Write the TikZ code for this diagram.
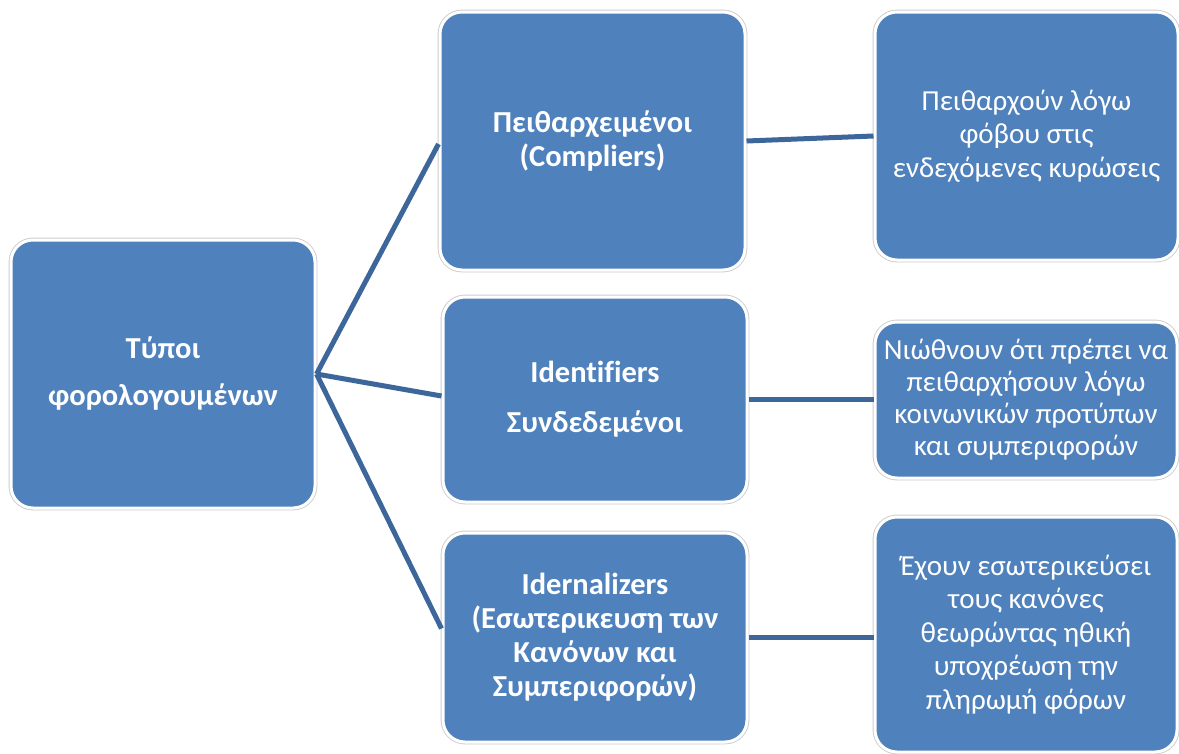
\documentclass[tikz,border=0pt]{standalone}
\usepackage{fontspec}
\setmainfont[Ligatures=NoCommon]{Carlito}
\definecolor{boxblue}{RGB}{79,129,189}
\definecolor{linkblue}{RGB}{61,103,155}
\begin{document}
\begin{tikzpicture}[x=1pt,y=-1pt,
  card/.style={rectangle, rounded corners=22pt, fill=boxblue, draw=white,
    line width=3pt, preaction={draw=black!20, line width=4.8pt},
    text=white, align=center, inner sep=0pt, anchor=center},
  txt/.style={font=\fontsize{29}{33.5}\selectfont},
  bold/.style={font=\fontsize{30.5}{34}\selectfont\bfseries},
  link/.style={draw=linkblue, line width=5pt}]
\useasboundingbox (0,0) rectangle (1179,753);

% hub box
\node[card, font=\fontsize{30.5}{47}\selectfont\bfseries,
      minimum width=304pt, minimum height=268pt] (L) at (163,374)
  {Τύποι\\ φορολογουμένων};

% middle column
\node[card, bold, minimum width=305pt, minimum height=258pt] (M1) at (592.5,141)
  {Πειθαρχειμένοι\\ (Compliers)};
\node[card, font=\fontsize{30.5}{50}\selectfont\bfseries,
      minimum width=304pt, minimum height=205pt] (M2) at (595,399.5)
  {Identifiers\\ Συνδεδεμένοι};
\node[card, bold, minimum width=304pt, minimum height=209pt] (M3) at (595,637.5)
  {Idernalizers\\ (Εσωτερικευση των\\ Κανόνων και\\ Συμπεριφορών)};

% right column
\node[card, txt, minimum width=303pt, minimum height=248pt] (R1) at (1026.5,136)
  {Πειθαρχούν λόγω\\ φόβου στις\\ ενδεχόμενες κυρώσεις};
\node[card, font=\fontsize{29}{32}\selectfont,
      minimum width=302pt, minimum height=156pt] (R2) at (1026,400)
  {Νιώθνουν ότι πρέπει να\\ πειθαρχήσουν λόγω\\ κοινωνικών προτύπων\\ και συμπεριφορών};
\node[card, txt, minimum width=302pt, minimum height=235pt] (R3) at (1026,634.5)
  {Έχουν εσωτερικεύσει\\ τους κανόνες\\ θεωρώντας ηθική\\ υποχρέωση την\\ πληρωμή φόρων};

% connectors from the hub and across to the descriptions
\draw[link] (L.east) -- ([yshift=-3pt]M1.west);
\draw[link] (L.east) -- ([yshift=3.5pt]M2.west);
\draw[link] (L.east) -- ([yshift=9pt]M3.west);
\draw[link] (M1.east) -- (R1.west);
\draw[link] (M2.east) -- (M2.east -| R2.west);
\draw[link] (M3.east) -- (M3.east -| R3.west);
\end{tikzpicture}
\end{document}
